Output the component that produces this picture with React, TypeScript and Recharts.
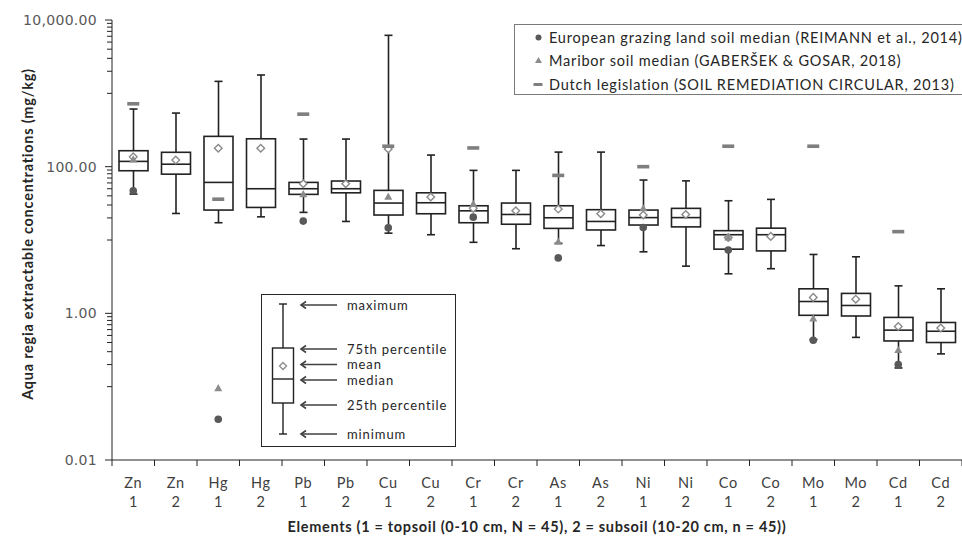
import { ComposedChart, Bar, Scatter, XAxis, YAxis } from "recharts";

const elements = ["Zn", "Zn", "Hg", "Hg", "Pb", "Pb", "Cu", "Cu", "Cr", "Cr", "As", "As", "Ni", "Ni", "Co", "Co", "Mo", "Mo", "Cd", "Cd"];
const layers = [1, 2, 1, 2, 1, 2, 1, 2, 1, 2, 1, 2, 1, 2, 1, 2, 1, 2, 1, 2];

const maxValues = [611, 538, 1456, 1778, 238, 238, 6180, 144, 89, 89, 158, 158, 65.7, 64, 34.3, 35.8, 6.35, 5.9, 2.37, 2.16];
const q3Values = [165, 157, 259, 240, 61, 63.7, 47.5, 44, 29.3, 31.9, 29.3, 25.9, 25.6, 27, 13.4, 14.5, 2.16, 1.87, 0.88, 0.75];
const medianValues = [118, 108, 61, 50, 50, 50, 31.9, 32.2, 25, 22.3, 20.1, 17.9, 20.2, 20.2, 11.8, 11.8, 1.45, 1.28, 0.59, 0.57];
const q1Values = [88, 79, 25.6, 27.8, 41.9, 44, 21.9, 22.8, 17.2, 16.4, 14.4, 13.7, 16, 15.1, 7.5, 7.1, 0.94, 0.92, 0.42, 0.4];
const minValues = [42.3, 23, 17.2, 20.7, 23.8, 17.9, 12.4, 11.8, 9.3, 7.6, 9.0, 8.4, 6.9, 4.4, 3.46, 4.06, 0.44, 0.47, 0.18, 0.28];
const meanValues = [136, 123, 178, 178, 58.5, 58.5, 174, 38.5, 27, 25, 26.4, 22.8, 21.9, 22.3, 10.8, 11.2, 1.65, 1.56, 0.66, 0.63];

// reference values, topsoil columns only
const europeanValues = [46.9, null, 0.036, null, 18.1, null, 14.7, null, 20.5, null, 5.7, null, 14.8, null, 7.3, null, 0.43, null, 0.2, null];
const mariborValues = [125, null, 0.095, null, 42, null, 38.9, null, 30.9, null, 9.5, null, 27, null, 10.8, null, 0.85, null, 0.315, null];
const dutchValues = [720, null, 36, null, 520, null, 190, null, 180, null, 76, null, 100, null, 190, null, 190, null, 13, null];

const majorTicks = [0.01, 1, 100, 10000];
const minorTicks = [
  0.1, 0.2, 0.3, 0.4, 0.5, 0.6, 0.7, 0.8, 0.9,
  10, 20, 30, 40, 50, 60, 70, 80, 90,
  1000, 2000, 3000, 4000, 5000, 6000, 7000, 8000, 9000,
];

const data = elements.map((el, i) => ({
  name: `${el} ${layers[i]}`,
  element: el,
  layer: layers[i],
  min: minValues[i],
  q1: q1Values[i],
  median: medianValues[i],
  q3: q3Values[i],
  max: maxValues[i],
  mean: meanValues[i],
  european: europeanValues[i],
  maribor: mariborValues[i],
  dutch: dutchValues[i],
}));

const WIDTH = 962;
const HEIGHT = 539;
const LEFT = 112;
const BAND = (WIDTH - LEFT) / elements.length;
const BOX = "#222";
const LABEL_FONT = "Lato, 'Open Sans', sans-serif";

const BoxShape = (props: any) => {
  const { x, y, width, height, payload } = props;
  if (!payload || !isFinite(y) || !isFinite(height)) return null;
  const hi = Math.log10(payload.max);
  const lo = Math.log10(payload.min);
  const py = (v: number) => y + (height * (hi - Math.log10(v))) / (hi - lo);
  const cx = x + width / 2;
  const cap = 4;
  return (
    <g>
      <line x1={cx} x2={cx} y1={py(payload.max)} y2={py(payload.q3)} stroke={BOX} strokeWidth={1.6} />
      <line x1={cx} x2={cx} y1={py(payload.q1)} y2={py(payload.min)} stroke={BOX} strokeWidth={1.6} />
      <line x1={cx - cap} x2={cx + cap} y1={py(payload.max)} y2={py(payload.max)} stroke={BOX} strokeWidth={1.6} />
      <line x1={cx - cap} x2={cx + cap} y1={py(payload.min)} y2={py(payload.min)} stroke={BOX} strokeWidth={1.6} />
      <rect x={x} y={py(payload.q3)} width={width} height={py(payload.q1) - py(payload.q3)} fill="#fff" stroke={BOX} strokeWidth={1.6} />
      <line x1={x} x2={x + width} y1={py(payload.median)} y2={py(payload.median)} stroke={BOX} strokeWidth={1.6} />
    </g>
  );
};

const Diamond = (props: any) => {
  const { cx, cy } = props;
  if (!isFinite(cx) || !isFinite(cy)) return null;
  const r = 3.8;
  return (
    <polygon
      points={`${cx},${cy - r} ${cx + r},${cy} ${cx},${cy + r} ${cx - r},${cy}`}
      fill="#fff"
      stroke="#8a8a8a"
      strokeWidth={1.4}
    />
  );
};

const Dot = (props: any) => {
  const { cx, cy, payload } = props;
  if (payload?.european == null || !isFinite(cy)) return null;
  return <circle cx={cx} cy={cy} r={3.8} fill="#595959" />;
};

const Triangle = (props: any) => {
  const { cx, cy, payload } = props;
  if (payload?.maribor == null || !isFinite(cy)) return null;
  return <polygon points={`${cx},${cy - 4.2} ${cx + 4},${cy + 3} ${cx - 4},${cy + 3}`} fill="#8c8c8c" />;
};

const Dash = (props: any) => {
  const { cx, cy, payload } = props;
  if (payload?.dutch == null || !isFinite(cy)) return null;
  return <rect x={cx - 6} y={cy - 1.8} width={12} height={3.6} fill="#7f7f7f" />;
};

const YTick = (props: any) => {
  const { x, y, payload } = props;
  const major = majorTicks.includes(payload.value);
  return (
    <g>
      <line x1={x - (major ? 7 : 5)} x2={x} y1={y} y2={y} stroke="#222" strokeWidth={1} />
      {major && (
        <text
          x={x - 15}
          y={y}
          dy="0.36em"
          textAnchor="end"
          fill="#595959"
          fontSize={14}
          letterSpacing={0.3}
          fontFamily="'DejaVu Sans', Verdana, sans-serif"
        >
          {payload.value.toLocaleString("en-US", { minimumFractionDigits: 2, maximumFractionDigits: 2 })}
        </text>
      )}
    </g>
  );
};

const XTick = (props: any) => {
  const { x, y, payload, index } = props;
  const row = data[index] ?? data.find((d) => d.name === payload.value);
  return (
    <g>
      <line x1={x - BAND / 2} x2={x - BAND / 2} y1={y} y2={y + 6} stroke="#222" />
      {index === data.length - 1 && <line x1={x + BAND / 2} x2={x + BAND / 2} y1={y} y2={y + 6} stroke="#222" />}
      <text x={x} y={y + 28} textAnchor="middle" fill="#404040" fontSize={14.5} letterSpacing={0.6} fontFamily={LABEL_FONT}>
        {row.element}
      </text>
      <text x={x} y={y + 47} textAnchor="middle" fill="#404040" fontSize={14.5} fontFamily={LABEL_FONT}>
        {row.layer}
      </text>
    </g>
  );
};

const legendItems = [
  { label: "European grazing land soil median (REIMANN et al., 2014)", marker: "dot" },
  { label: "Maribor soil median (GABERŠEK & GOSAR, 2018)", marker: "triangle" },
  { label: "Dutch legislation (SOIL REMEDIATION CIRCULAR, 2013)", marker: "dash" },
];

const LegendBox = () => (
  <div
    style={{
      position: "absolute",
      left: 514,
      top: 24,
      width: 470,
      height: 71,
      border: "1px solid #7a7a7a",
      background: "#fff",
      boxSizing: "border-box",
    }}
  >
    {legendItems.map((item, i) => (
      <div key={item.label} style={{ position: "absolute", left: 0, top: 1 + i * 23.3, height: 23, width: 465, display: "flex", alignItems: "center" }}>
        <svg width={34} height={23} style={{ flex: "none" }}>
          {item.marker === "dot" && <circle cx={23.5} cy={11.5} r={3} fill="#595959" />}
          {item.marker === "triangle" && <polygon points="23.5,8 27,14 20,14" fill="#8c8c8c" />}
          {item.marker === "dash" && <rect x={18.5} y={10} width={9} height={3} fill="#7f7f7f" />}
        </svg>
        <span style={{ fontFamily: LABEL_FONT, fontSize: 14.5, letterSpacing: 0.8, color: "#262626", whiteSpace: "nowrap" }}>
          {item.label}
        </span>
      </div>
    ))}
  </div>
);

const insetLabels = [
  { text: "maximum", y: 11 },
  { text: "75th percentile", y: 55 },
  { text: "mean", y: 70.5 },
  { text: "median", y: 86 },
  { text: "25th percentile", y: 111 },
  { text: "minimum", y: 140 },
];

const InsetKey = () => (
  <svg width={195} height={153} style={{ position: "absolute", left: 261, top: 294 }}>
    <rect x={0.5} y={0.5} width={194} height={152} fill="#fff" stroke="#262626" />
    <line x1={22} x2={22} y1={10} y2={54} stroke={BOX} strokeWidth={1.4} />
    <line x1={22} x2={22} y1={109} y2={140} stroke={BOX} strokeWidth={1.4} />
    <line x1={18} x2={26} y1={10} y2={10} stroke={BOX} strokeWidth={1.4} />
    <line x1={18} x2={26} y1={140} y2={140} stroke={BOX} strokeWidth={1.4} />
    <rect x={11.5} y={54} width={21} height={55} fill="#fff" stroke={BOX} strokeWidth={1.4} />
    <line x1={11.5} x2={32.5} y1={85} y2={85} stroke={BOX} strokeWidth={1.4} />
    <polygon points="22,68.5 25.5,72 22,75.5 18.5,72" fill="#fff" stroke="#8a8a8a" strokeWidth={1.3} />
    {insetLabels.map((l) => (
      <g key={l.text}>
        <line x1={41} x2={76} y1={l.y} y2={l.y} stroke="#404040" strokeWidth={1.6} />
        <polyline points={`${45},${l.y - 3.5} ${40},${l.y} ${45},${l.y + 3.5}`} fill="none" stroke="#404040" strokeWidth={1.6} />
        <text x={86} y={l.y} dy="0.35em" fontSize={13} letterSpacing={0.9} fontFamily={LABEL_FONT} fill="#262626">
          {l.text}
        </text>
      </g>
    ))}
  </svg>
);

export default function App() {
  return (
    <div style={{ position: "absolute", left: 0, top: 0, width: WIDTH, height: HEIGHT, overflow: "hidden", background: "#fff" }}>
      <ComposedChart width={WIDTH} height={HEIGHT} data={data} margin={{ top: 20, right: 0, bottom: 0, left: 0 }}>
        <XAxis
          dataKey="name"
          interval={0}
          height={79}
          tickSize={0}
          tickMargin={0}
          tickLine={false}
          axisLine={{ stroke: "#222" }}
          tick={<XTick />}
          label={{
            content: (p: any) => (
              <text
                x={p.viewBox.x + p.viewBox.width / 2}
                y={532}
                textAnchor="middle"
                fontSize={14.5}
                letterSpacing={0.68}
                fontWeight="bold"
                fontFamily={LABEL_FONT}
                fill="#262626"
              >
                Elements (1 = topsoil (0-10 cm, N = 45), 2 = subsoil (10-20 cm, n = 45))
              </text>
            ),
          }}
        />
        <YAxis
          scale="log"
          domain={[0.01, 10000]}
          allowDataOverflow
          ticks={[...majorTicks, ...minorTicks]}
          interval={0}
          width={LEFT}
          tickSize={0}
          tickMargin={0}
          tickLine={false}
          axisLine={{ stroke: "#222" }}
          tick={<YTick />}
          label={{
            content: (p: any) => (
              <text
                transform={`translate(28, ${p.viewBox.y + p.viewBox.height / 2 - 6}) rotate(-90)`}
                textAnchor="middle"
                dy="0.35em"
                fontSize={14.5}
                letterSpacing={0.75}
                fontWeight="bold"
                fontFamily={LABEL_FONT}
                fill="#262626"
              >
                Aqua regia extractable concentrations (mg/kg)
              </text>
            ),
          }}
        />
        <Bar dataKey={(d: any) => [d.min, d.max]} barSize={29} shape={<BoxShape />} isAnimationActive={false} />
        <Scatter dataKey="mean" shape={<Diamond />} isAnimationActive={false} />
        <Scatter dataKey="european" shape={<Dot />} isAnimationActive={false} />
        <Scatter dataKey="maribor" shape={<Triangle />} isAnimationActive={false} />
        <Scatter dataKey="dutch" shape={<Dash />} isAnimationActive={false} />
      </ComposedChart>
      <LegendBox />
      <InsetKey />
    </div>
  );
}
